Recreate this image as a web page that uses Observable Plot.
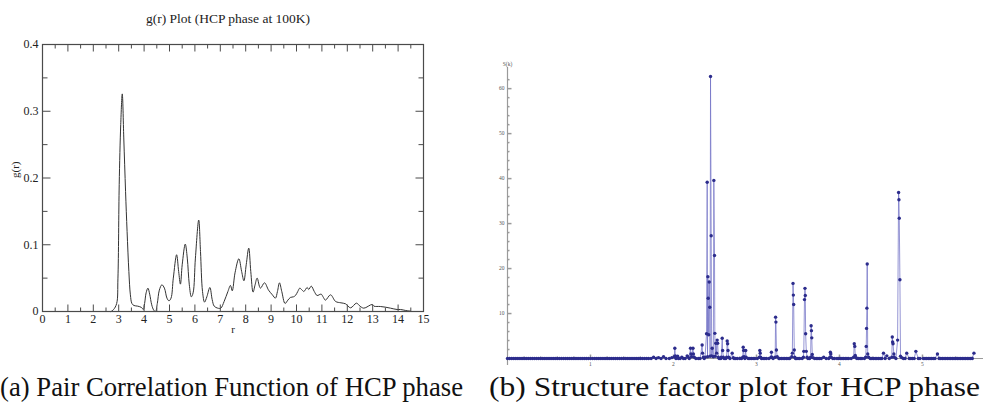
<!DOCTYPE html>
<html><head><meta charset="utf-8">
<script src="https://cdn.jsdelivr.net/npm/d3@7"></script>
<script src="https://cdn.jsdelivr.net/npm/@observablehq/plot@0.6"></script>
<style>
html,body{margin:0;padding:0;background:#fff;}
#page{position:relative;width:985px;height:415px;overflow:hidden;background:#fff;}
#left{position:absolute;left:0;top:0;}
#right{position:absolute;left:460px;top:0;}
.cap{position:absolute;top:370px;font-family:"Liberation Serif",Tinos,"Times New Roman",Times,"DejaVu Serif","Noto Serif",FreeSerif,serif;font-size:28px;line-height:34px;white-space:nowrap;color:#111;transform-origin:left top;}
</style></head><body>
<div id="page"><div id="left"></div><div id="right"></div>
<div class="cap" id="capA">(a) Pair Correlation Function of HCP phase</div>
<div class="cap" id="capB">(b) Structure factor plot for HCP phase</div>
</div>
<script>
// ---------- (a) g(r) ----------
const grTitle = "g(r) Plot (HCP phase at 100K)";
const grXLabel = "r";
const grYLabel = "g(r)";
const grXTicks = [0,1,2,3,4,5,6,7,8,9,10,11,12,13,14,15];
const grXMinor = [0.5,1.5,2.5,3.5,4.5,5.5,6.5,7.5,8.5,9.5,10.5,11.5,12.5,13.5,14.5];
const grYTicks = [0,0.1,0.2,0.3,0.4];
const grYTickLabels = ["0","0.1","0.2","0.3","0.4"];
const grYMinor = [0.05,0.15,0.25,0.35];
const grPoints = [
[2.70,0],[2.80,0.003],[2.92,0.012],[2.97,0.05],[3.02,0.19],[3.08,0.28],[3.14,0.326],[3.20,0.26],[3.27,0.18],
[3.33,0.12],[3.40,0.06],[3.46,0.025],[3.52,0.012],[3.60,0.009],[3.75,0.008],[3.90,0.006],[3.97,0.003],
[4.02,0.012],[4.08,0.028],[4.15,0.035],[4.22,0.026],[4.30,0.01],[4.38,0.002],[4.45,0.0],[4.52,0.012],
[4.60,0.032],[4.70,0.040],[4.80,0.035],[4.90,0.02],[4.98,0.016],[5.06,0.02],[5.15,0.05],[5.28,0.085],
[5.36,0.06],[5.43,0.041],[5.50,0.07],[5.62,0.101],[5.70,0.08],[5.78,0.04],[5.86,0.022],[5.93,0.028],
[6.02,0.08],[6.15,0.137],[6.22,0.09],[6.30,0.03],[6.38,0.014],[6.47,0.022],[6.59,0.036],[6.68,0.018],
[6.76,0.008],[6.90,0.005],[7.02,0.005],[7.15,0.015],[7.30,0.03],[7.40,0.039],[7.47,0.031],[7.58,0.058],
[7.73,0.079],[7.84,0.06],[7.93,0.046],[8.02,0.07],[8.12,0.095],[8.20,0.06],[8.29,0.029],[8.37,0.04],
[8.45,0.050],[8.58,0.035],[8.74,0.043],[8.90,0.032],[9.05,0.025],[9.17,0.020],[9.25,0.03],[9.33,0.043],
[9.42,0.03],[9.55,0.012],[9.66,0.017],[9.76,0.021],[9.88,0.022],[9.96,0.024],[10.05,0.03],[10.13,0.035],
[10.22,0.032],[10.29,0.030],[10.42,0.036],[10.48,0.033],[10.58,0.038],[10.70,0.03],[10.81,0.024],
[10.97,0.026],[11.06,0.021],[11.14,0.017],[11.34,0.025],[11.54,0.015],[11.75,0.013],[11.93,0.0115],
[12.13,0.0055],[12.36,0.0125],[12.50,0.008],[12.65,0.005],[12.98,0.0105],[13.05,0.008],[13.30,0.0075],
[13.50,0.0065],[13.70,0.005],[13.96,0.003],[14.10,0.003],[14.30,0.0015],[14.49,0.0005]
];

// ---------- (b) S(k) ----------
const skYLabel = "S(k)";
const skXTicks = [1,2,3,4,5];
const skXMinor = [0.2,0.4,0.6,0.8,1.2,1.4,1.6,1.8,2.2,2.4,2.6,2.8,3.2,3.4,3.6,3.8,4.2,4.4,4.6,4.8,5.2,5.4,5.6];
const skYTicks = [10,20,30,40,50,60];
const skYMinor = [2,4,6,8,12,14,16,18,22,24,26,28,32,34,36,38,42,44,46,48,52,54,56,58,62];
const skBaseK = [0,0.025,0.05,0.075,0.1,0.125,0.15,0.175,0.2,0.225,0.25,0.275,0.3,0.325,0.35,0.375,0.4,0.425,
0.45,0.475,0.5,0.525,0.55,0.575,0.6,0.625,0.65,0.675,0.7,0.725,0.75,0.775,0.8,0.825,0.85,0.875,0.9,0.925,
0.95,0.975,1.0,1.025,1.05,1.075,1.1,1.125,1.15,1.175,1.2,1.225,1.25,1.275,1.3,1.325,1.35,1.375,1.4,1.425,
1.45,1.475,1.5,1.525,1.55,1.575,1.6,1.625,1.65,1.675,1.7,1.73,1.79,1.85,1.91,1.95,
2.03,2.06,2.08,2.12,2.14,2.19,2.27,2.30,2.32,2.37,2.55,2.57,2.61,2.63,2.68,2.73,2.75,2.77,2.80,2.82,2.86,
2.90,2.92,2.94,2.96,2.98,3.01,3.06,3.08,3.10,3.12,3.15,3.20,3.27,3.28,3.30,3.32,3.34,3.36,3.38,3.40,3.47,3.48,3.50,
3.52,3.55,3.62,3.64,3.70,3.72,3.74,3.76,3.78,3.84,3.87,3.92,3.94,3.97,3.99,4.01,4.03,4.05,4.07,4.09,4.11,
4.14,4.21,4.23,4.25,4.27,4.30,4.37,4.39,4.41,4.43,4.45,4.47,4.49,4.51,4.55,4.60,4.68,4.77,4.79,4.84,4.86,4.88,
4.90,4.95,4.97,5.01,5.03,5.05,5.07,5.09,5.11,5.13,5.15,5.20,5.22,5.24,5.26,5.28,5.30,5.32,5.34,5.36,5.38,5.40,
5.42,5.44,5.46,5.48,5.50,5.52,5.54,5.56,5.58,5.60];
const skPeaks = [
[1.76,0.3],[1.82,0.2],[1.88,0.4],[1.98,0.2],
[2.010,0.4],[2.016,2.3],[2.022,0.6],[2.05,0.5],[2.10,0.3],
[2.165,0.6],[2.17,0.4],[2.205,2.3],[2.21,1.0],[2.218,0.4],[2.235,2.3],[2.24,1.0],[2.25,0.3],
[2.345,3.0],[2.35,1.2],[2.36,0.3],
[2.380,0.3],[2.398,5.5],[2.406,39.2],[2.410,0.4],[2.414,18.2],[2.418,13.4],[2.424,5.3],[2.430,17.0],
[2.437,11.4],[2.441,0.5],[2.446,62.7],[2.454,27.3],[2.460,0.6],[2.466,2.3],[2.480,0.4],[2.486,39.6],
[2.494,22.9],[2.498,5.6],[2.503,0.5],[2.510,3.4],[2.520,1.2],[2.526,4.1],[2.532,3.4],[2.540,0.3],
[2.575,0.3],[2.587,4.5],[2.592,1.8],[2.600,0.3],[2.640,0.3],[2.647,3.9],[2.652,3.3],[2.657,1.8],
[2.665,0.3],[2.707,1.2],[2.72,0.2],
[2.835,0.3],[2.840,2.5],[2.845,1.8],[2.850,0.4],[2.870,1.8],[2.875,0.3],
[3.035,0.3],[3.040,1.8],[3.045,1.2],[3.050,0.3],
[3.175,0.3],[3.180,1.4],[3.185,0.3],
[3.225,0.3],[3.230,9.2],[3.234,8.1],[3.240,1.9],[3.250,0.4],
[3.425,0.4],[3.432,1.2],[3.440,16.7],[3.444,14.1],[3.448,12.0],[3.455,1.9],[3.460,0.3],
[3.565,0.3],[3.570,1.6],[3.578,13.1],[3.584,15.6],[3.588,14.0],[3.592,5.5],[3.600,1.6],[3.610,0.3],
[3.652,0.3],[3.658,7.3],[3.662,6.2],[3.666,4.6],[3.672,0.9],[3.680,0.2],
[3.810,0.3],[3.885,0.3],[3.890,1.4],[3.895,1.0],[3.900,0.3],
[4.170,0.3],[4.178,3.3],[4.184,2.7],[4.190,0.7],[4.200,0.2],
[4.315,0.3],[4.322,2.7],[4.326,6.7],[4.330,11.2],[4.334,21.0],[4.340,1.0],[4.350,0.3],
[4.530,1.2],[4.570,0.6],
[4.630,0.3],[4.636,4.8],[4.640,3.7],[4.645,3.3],[4.655,1.0],[4.660,0.3],[4.700,4.1],[4.712,36.9],
[4.716,35.3],[4.720,31.2],[4.728,17.5],[4.735,0.5],[4.750,0.2],
[4.810,1.2],[4.920,1.6],[5.180,1.0],[5.620,1.2]
];

// ---------- build ----------
const tick = (dx, dy) => ({draw(ctx) { ctx.moveTo(0, 0); ctx.lineTo(dx, dy); }});
const gr = grPoints.map(([r, g]) => ({r, g}));
const frameCol = "#4a4a4a";
const serif = "'Liberation Serif', Tinos, 'Times New Roman', Times, 'DejaVu Serif', 'Noto Serif', FreeSerif, serif";
const tk = (data, channel, anchor, sym, col) => Plot.dot(data, {[channel]: d => d, frameAnchor: anchor, symbol: sym, r: 1, fill: "none", stroke: col, strokeWidth: 1});

const left = Plot.plot({
  width: 460, height: 345,
  marginLeft: 42, marginRight: 37, marginTop: 44, marginBottom: 34,
  x: {domain: [0, 15], axis: null},
  y: {domain: [0, 0.4], axis: null},
  style: {fontFamily: serif, background: "white", overflow: "visible"},
  marks: [
    Plot.line(gr, {x: "r", y: "g", stroke: "#333", strokeWidth: 1, curve: "catmull-rom"}),
    Plot.frame({stroke: frameCol, strokeWidth: 1.2}),
    tk(grXTicks, "x", "bottom", tick(0, -7), frameCol),
    tk(grXMinor, "x", "bottom", tick(0, -4), frameCol),
    tk(grXTicks, "x", "top", tick(0, 7), frameCol),
    tk(grXMinor, "x", "top", tick(0, 4), frameCol),
    tk(grYTicks, "y", "left", tick(8, 0), frameCol),
    tk(grYMinor, "y", "left", tick(5, 0), frameCol),
    tk(grYTicks, "y", "right", tick(-8, 0), frameCol),
    tk(grYMinor, "y", "right", tick(-5, 0), frameCol),
    Plot.text(grXTicks, {x: d => d, frameAnchor: "bottom", dy: 11, text: d => String(d), fontSize: 12, fontFamily: serif, fill: "#222"}),
    Plot.text(grYTicks, {y: d => d, frameAnchor: "left", dx: -4, textAnchor: "end", text: (d, i) => grYTickLabels[i], fontSize: 12, fontFamily: serif, fill: "#222"}),
    Plot.text([grXLabel], {frameAnchor: "bottom", dy: 21, text: d => d, fontSize: 11, fontFamily: serif, fill: "#222"}),
    Plot.text([grYLabel], {frameAnchor: "left", dx: -27, rotate: -90, text: d => d, fontSize: 11, fontFamily: serif, fill: "#222"}),
    Plot.text([grTitle], {frameAnchor: "top", dx: -5, dy: -31, text: d => d, fontSize: 13.5, fontFamily: serif, fill: "#222"})
  ]
});
document.getElementById("left").appendChild(left);

const sk = skBaseK.map(k => ({k, s: 0})).concat(skPeaks.map(([k, s]) => ({k, s}))).sort((a, b) => a.k - b.k);
const axCol = "#9a9a9a";
const lblCol = "#555";
const right = Plot.plot({
  width: 525, height: 380,
  marginLeft: 47, marginRight: 2, marginTop: 67, marginBottom: 15,
  x: {domain: [0, 5.735], axis: null},
  y: {domain: [-1.55, 64.7], axis: null},
  style: {fontFamily: serif, background: "white", overflow: "visible"},
  marks: [
    Plot.ruleX([0], {stroke: axCol, strokeWidth: 1.2}),
    Plot.ruleY([0], {stroke: axCol, strokeWidth: 1}),
    Plot.dot(skYTicks, {y: d => d, frameAnchor: "left", symbol: tick(4, 0), r: 1, fill: "none", stroke: axCol}),
    Plot.dot(skYMinor, {y: d => d, frameAnchor: "left", symbol: tick(2, 0), r: 1, fill: "none", stroke: axCol}),
    Plot.dot(skXTicks, {x: d => d, y: () => 0, symbol: tick(0, -4), r: 1, fill: "none", stroke: axCol}),
    Plot.dot(skXMinor, {x: d => d, y: () => 0, symbol: tick(0, -2), r: 1, fill: "none", stroke: axCol}),
    Plot.line(sk, {x: "k", y: "s", stroke: "#7272c6", strokeOpacity: 0.75, strokeWidth: 1}),
    Plot.dot(sk, {x: "k", y: "s", r: 1.7, fill: "#2c2c8c", stroke: "none"}),
    Plot.text(skYTicks, {y: d => d, frameAnchor: "left", dx: -3, textAnchor: "end", text: d => String(d), fontSize: 5.5, fontFamily: serif, fill: lblCol}),
    Plot.text(skXTicks, {x: d => d, y: () => 0, dy: 6, text: d => String(d), fontSize: 5.5, fontFamily: serif, fill: lblCol}),
    Plot.text([skYLabel], {frameAnchor: "top-left", dy: -5, textAnchor: "middle", text: d => d, fontSize: 5.5, fontFamily: serif, fill: lblCol})
  ]
});
document.getElementById("right").appendChild(right);

// captions: stretch to the reference's widths
function fit(id, x0, x1) {
  const el = document.getElementById(id);
  el.style.left = x0 + "px";
  const w = el.getBoundingClientRect().width;
  el.style.transform = `scaleX(${(x1 - x0) / w})`;
}
fit("capA", 0, 463);
fit("capB", 489, 980);
</script>
</body></html>
